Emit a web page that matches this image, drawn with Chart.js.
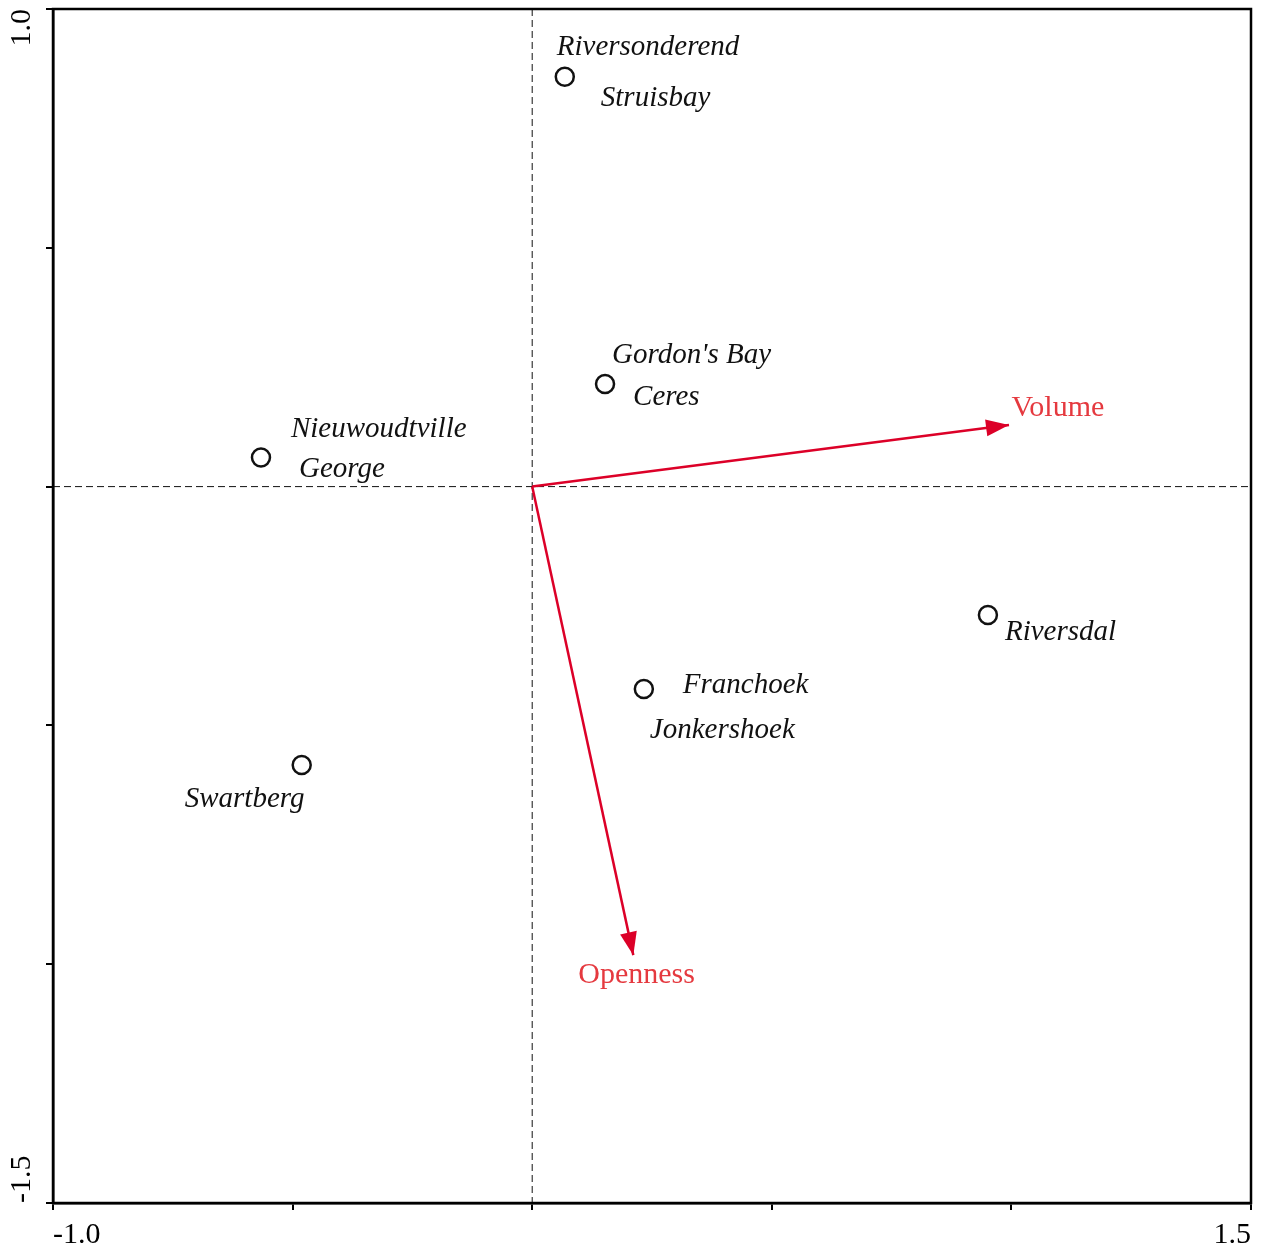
<!DOCTYPE html>
<html>
<head>
<meta charset="utf-8">
<script src="https://cdn.jsdelivr.net/npm/chart.js@4"></script>
<style>
html,body{margin:0;padding:0;background:#fff;}
#wrap{width:1264px;height:1252px;}
</style>
</head>
<body>
<div id="wrap"><canvas id="c" width="1264" height="1252"></canvas></div>
<script>
// ---- data ----
const siteNames = [
  ['Riversonderend','Struisbay'],
  ["Gordon's Bay",'Ceres'],
  ['Nieuwoudtville','George'],
  ['Riversdal'],
  ['Franchoek','Jonkershoek'],
  ['Swartberg']
];
const siteX = [0.068, 0.152, -0.566, 0.951, 0.233, -0.481];
const siteY = [0.858, 0.215, 0.061, -0.269, -0.424, -0.583];
const varNames = ['Volume','Openness'];
const varX = [0.995, 0.211];
const varY = [0.129, -0.981];
const xTickLabels = ['-1.0','1.5'];
const yTickLabels = ['1.0','-1.5'];

// ---- label layout (pixel offsets to text baseline-left) ----
const siteLabelOffsets = [
  [[-8,-22],[36,29]],
  [[7,-21],[28,21]],
  [[30,-20],[38,20]],
  [[17,25]],
  [[39,4],[6,49]],
  [[-117,42]]
];
const varLabelOffsets = [[2.5,-9],[-55,28]];

const RED = '#dc0028';
const RED_TEXT = '#e5393f';
Chart.defaults.font.family = "'Liberation Serif', 'Times New Roman', serif";

const arrowDatasets = varX.map((vx,i)=>({
  type:'line',
  data:[{x:0,y:0},{x:vx,y:varY[i]}],
  borderColor:RED, borderWidth:2.5, pointRadius:0, showLine:true, fill:false
}));

const overlay = {
  id:'overlay',
  beforeDatasetsDraw(chart){
    const {ctx, chartArea:a, scales:{x,y}} = chart;
    ctx.save();
    ctx.strokeStyle='#111'; ctx.lineWidth=1; ctx.setLineDash([7,4]);
    const x0=x.getPixelForValue(0), y0=y.getPixelForValue(0);
    ctx.beginPath(); ctx.moveTo(x0,a.top); ctx.lineTo(x0,a.bottom); ctx.stroke();
    ctx.beginPath(); ctx.moveTo(a.left,y0); ctx.lineTo(a.right,y0); ctx.stroke();
    ctx.restore();
  },
  afterDatasetsDraw(chart){
    const {ctx, chartArea:a, scales:{x,y}} = chart;
    ctx.save();
    // frame
    ctx.strokeStyle='#000'; ctx.lineWidth=2.5; ctx.setLineDash([]);
    ctx.strokeRect(a.left,a.top,a.right-a.left,a.bottom-a.top);
    // arrowheads
    const x0=x.getPixelForValue(0), y0=y.getPixelForValue(0);
    varX.forEach((vx,i)=>{
      const px=x.getPixelForValue(vx), py=y.getPixelForValue(varY[i]);
      const ang=Math.atan2(py-y0,px-x0);
      const L=23, W=8.5;
      ctx.fillStyle=RED;
      ctx.beginPath();
      ctx.moveTo(px,py);
      ctx.lineTo(px-L*Math.cos(ang)+W*Math.sin(ang), py-L*Math.sin(ang)-W*Math.cos(ang));
      ctx.lineTo(px-L*Math.cos(ang)-W*Math.sin(ang), py-L*Math.sin(ang)+W*Math.cos(ang));
      ctx.closePath(); ctx.fill();
      ctx.font="30px 'Liberation Serif'";
      ctx.fillStyle=RED_TEXT; ctx.textAlign='left'; ctx.textBaseline='alphabetic';
      ctx.fillText(varNames[i], px+varLabelOffsets[i][0], py+varLabelOffsets[i][1]);
    });
    // site labels
    ctx.font="italic 29px 'Liberation Serif'";
    ctx.fillStyle='#111'; ctx.textAlign='left'; ctx.textBaseline='alphabetic';
    siteNames.forEach((names,i)=>{
      const px=x.getPixelForValue(siteX[i]), py=y.getPixelForValue(siteY[i]);
      names.forEach((n,j)=>{
        const o=siteLabelOffsets[i][j];
        ctx.fillText(n, px+o[0], py+o[1]);
      });
    });
    // tick labels
    ctx.font="30px 'Liberation Serif'";
    ctx.fillStyle='#000';
    ctx.textBaseline='alphabetic';
    ctx.textAlign='left';
    ctx.fillText(xTickLabels[0], x.getPixelForValue(-1.0), a.bottom+40);
    ctx.textAlign='right';
    ctx.fillText(xTickLabels[1], x.getPixelForValue(1.5), a.bottom+40);
    ctx.textBaseline='middle';
    ctx.save();
    ctx.translate(22, y.getPixelForValue(1.0));
    ctx.rotate(-Math.PI/2);
    ctx.textAlign='right';
    ctx.fillText(yTickLabels[0], 0, 0);
    ctx.restore();
    ctx.save();
    ctx.translate(22, y.getPixelForValue(-1.5));
    ctx.rotate(-Math.PI/2);
    ctx.textAlign='left';
    ctx.fillText(yTickLabels[1], 0, 0);
    ctx.restore();
    ctx.restore();
  }
};

new Chart(document.getElementById('c'), {
  type:'scatter',
  data:{
    datasets:[
      ...arrowDatasets,
      {
        type:'scatter',
        data:siteX.map((v,i)=>({x:v,y:siteY[i]})),
        pointStyle:'circle', pointRadius:9, pointBorderWidth:2.5,
        pointBorderColor:'#111', pointBackgroundColor:'#fff'
      }
    ]
  },
  options:{
    responsive:false, animation:false, devicePixelRatio:1,
    layout:{autoPadding:false, padding:{top:9,right:13,left:0,bottom:0}},
    plugins:{legend:{display:false}, tooltip:{enabled:false}},
    scales:{
      x:{
        type:'linear', min:-1.0, max:1.5,
        ticks:{stepSize:0.5, display:false},
        grid:{drawOnChartArea:false, drawTicks:true, tickLength:7, color:'#000', lineWidth:2},
        border:{display:true, color:'#000', width:2.5},
        afterFit(s){ s.height=49; s.paddingLeft=0; s.paddingRight=0; }
      },
      y:{
        type:'linear', min:-1.5, max:1.0,
        ticks:{stepSize:0.5, display:false},
        grid:{drawOnChartArea:false, drawTicks:true, tickLength:7, color:'#000', lineWidth:2},
        border:{display:true, color:'#000', width:2.5},
        afterFit(s){ s.width=53; s.paddingTop=0; s.paddingBottom=0; }
      }
    }
  },
  plugins:[overlay]
});
</script>
</body>
</html>
